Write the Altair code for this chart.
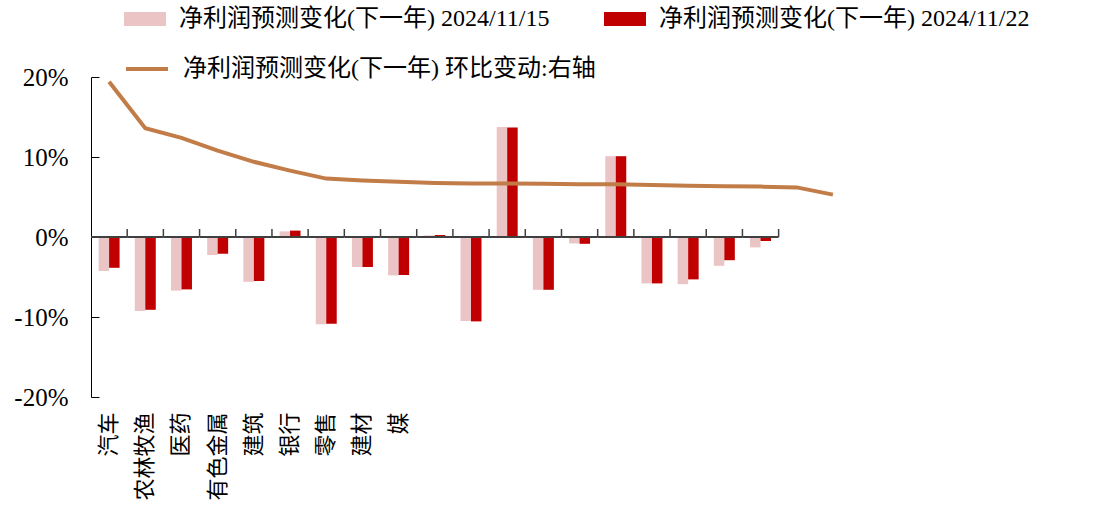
import json
import altair as alt
import pandas as pd

# ---------------- data ----------------
x_labels = ["汽车", "农林牧渔", "医药", "有色金属", "建筑", "银行", "零售", "建材", "媒",
            "", "", "", "", "", "", "", "", "", "", "", ""]
pink_vals = [-4.25, -9.25, -6.7, -2.25, -5.6, 0.7, -10.9, -3.75, -4.8, 0.2,
             -10.5, 13.75, -6.6, -0.8, 10.1, -5.8, -5.9, -3.6, -1.3]
red_vals = [-3.85, -9.1, -6.55, -2.1, -5.5, 0.8, -10.85, -3.75, -4.75, 0.25,
            -10.55, 13.7, -6.6, -0.85, 10.1, -5.8, -5.3, -2.9, -0.5]
line_vals = [19.4, 13.6, 12.4, 10.8, 9.4, 8.3, 7.3, 7.05, 6.9, 6.75, 6.7,
             6.7, 6.65, 6.6, 6.6, 6.5, 6.4, 6.35, 6.3, 6.2, 5.3]
s1 = "净利润预测变化(下一年) 2024/11/15"
s2 = "净利润预测变化(下一年) 2024/11/22"
s3 = "净利润预测变化(下一年) 环比变动:右轴"
y_ticks = [-0.2, -0.1, 0, 0.1, 0.2]

n_cat = len(x_labels)
n_bar = len(pink_vals)

bar_rows = []
for i in range(n_bar):
    bar_rows.append({"idx": i, "series": s1, "value": pink_vals[i] / 100})
    bar_rows.append({"idx": i, "series": s2, "value": red_vals[i] / 100})
bars_df = pd.DataFrame(bar_rows)
line_df = pd.DataFrame({"idx": list(range(len(line_vals))),
                        "value": [v / 100 for v in line_vals],
                        "series": [s3] * len(line_vals)})
zero_df = pd.DataFrame({"idx": list(range(n_bar))})
tick_df = pd.DataFrame({"idx": list(range(1, n_bar + 1))})

FONT = "Liberation Serif, Noto Sans CJK SC"
PINK = "#EBC4C6"
RED = "#C00000"
BROWN = "#C27C47"
AXIS_GRAY = "#404040"

label_expr = json.dumps(x_labels, ensure_ascii=False) + "[datum.value]"

x_axis = alt.Axis(title=None, labelExpr=label_expr, labelAngle=270, ticks=False,
                  domain=False, labelPadding=15, labelFontSize=22, labelFont=FONT,
                  labelColor="black")
x_scale = alt.Scale(domain=list(range(n_cat)), paddingInner=0, paddingOuter=0)
y_scale = alt.Scale(domain=[-0.2, 0.2])
y_axis = alt.Axis(title=None, values=y_ticks, grid=False,
                  labelExpr="replace(format(datum.value, '.0%'), '\u2212', '-')",
                  domainColor="black", tickColor="black",
                  tickSize=alt.ExprRef(expr="-8"), labelPadding=31,
                  labelFontSize=25, labelFont=FONT, labelColor="black")

bars = alt.Chart(bars_df).mark_bar().encode(
    x=alt.X("idx:O", scale=x_scale, axis=x_axis),
    xOffset=alt.XOffset("series:N", sort=[s1, s2],
                        scale=alt.Scale(paddingOuter=0.725, paddingInner=0)),
    y=alt.Y("value:Q", scale=y_scale, axis=y_axis),
    color=alt.Color("series:N", sort=[s1, s2],
                    scale=alt.Scale(domain=[s1, s2], range=[PINK, RED]),
                    legend=alt.Legend(orient="none", legendX=40, legendY=-72,
                                      direction="horizontal", title=None,
                                      symbolType="M-1.5,-0.5H1.5V0.5H-1.5Z",
                                      symbolSize=784, symbolStrokeWidth=0,
                                      symbolOpacity=1, labelFontSize=24,
                                      labelFont=FONT, labelColor="black",
                                      columnPadding=54, labelOffset=20,
                                      padding=0, labelLimit=0)),
)

zero_line = alt.Chart(zero_df).mark_bar(color=AXIS_GRAY).encode(
    x=alt.X("idx:O", scale=x_scale, axis=x_axis),
    y=alt.Y(datum=0.0012, scale=y_scale, axis=y_axis),
    y2=alt.Y2(datum=-0.0012),
)

x_ticks = alt.Chart(tick_df).mark_rule(color=AXIS_GRAY, strokeWidth=1.5).encode(
    x=alt.X("idx:O", bandPosition=0, scale=x_scale, axis=x_axis),
    y=alt.Y(datum=0, scale=y_scale, axis=y_axis),
    y2=alt.Y2(datum=0.01),
)

line = alt.Chart(line_df).mark_line(strokeWidth=4).encode(
    x=alt.X("idx:O", scale=x_scale, axis=x_axis),
    y=alt.Y("value:Q", scale=y_scale, axis=y_axis),
    stroke=alt.Stroke("series:N",
                      scale=alt.Scale(domain=[s3], range=[BROWN]),
                      legend=alt.Legend(orient="none", legendX=40, legendY=-24,
                                        title=None, symbolType="M-1.5,0H1.5",
                                        symbolSize=784, symbolStrokeWidth=4,
                                        labelFontSize=24, labelFont=FONT,
                                        labelColor="black", labelOffset=20,
                                        padding=0, labelLimit=0)),
)

chart = alt.layer(bars, zero_line, x_ticks, line).resolve_legend(
    color="independent", stroke="independent"
).properties(
    width=760, height=320,
    padding={"left": 13, "top": 5, "right": 5, "bottom": 5},
    background="white",
).configure_view(stroke=None)

chart.save("out.html", embed_options={"renderer": "svg", "actions": False})
